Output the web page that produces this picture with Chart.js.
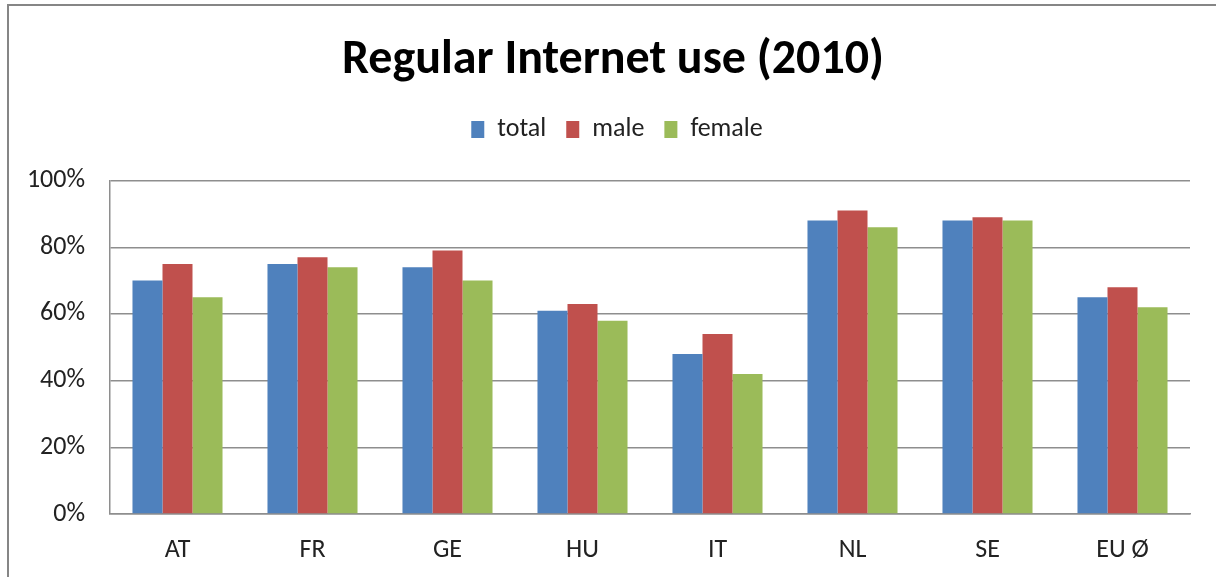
<!DOCTYPE html>
<html>
<head>
<meta charset="utf-8">
<script src="https://cdn.jsdelivr.net/npm/chart.js@4.4.1/dist/chart.umd.min.js"></script>
<style>
  html, body { margin: 0; padding: 0; background: #fff; overflow: hidden; }
  canvas { display: block; }
</style>
</head>
<body>
<canvas id="chart" width="1216" height="577"></canvas>
<script>
// 데이터
var countries = ['AT', 'FR', 'GE', 'HU', 'IT', 'NL', 'SE', 'EU Ø'];
var totalValues = [70, 75, 74, 61, 48, 88, 88, 65];
var maleValues = [75, 77, 79, 63, 54, 91, 89, 68];
var femaleValues = [65, 74, 70, 58, 42, 86, 88, 62];
var yTicks = [0, 20, 40, 60, 80, 100];

var FONT = "Calibri, Carlito, Lato, 'Open Sans', sans-serif";
var GRID = '#8e8e8e';

Chart.defaults.font.family = FONT;
Chart.defaults.color = '#222';

function makeSet(label, data, color) {
	return {
		label : label,
		data : data,
		backgroundColor : color,
		borderWidth : 0,
		categoryPercentage : 0.667,
		barPercentage : 1.0
	};
}

// 범례 아래 여백 늘리기
var legendGap = {
	id : 'legendGap',
	beforeInit : function(chart) {
		var fit = chart.legend.fit;
		chart.legend.fit = function() {
			fit.bind(chart.legend)();
			this.height += 28;
		};
	}
};

// 제목/범례 가운데 위치 살짝 오른쪽으로
var shiftHeader = {
	id : 'shiftHeader',
	afterLayout : function(chart) {
		if (chart.titleBlock) {
			chart.titleBlock.left += 6;
			chart.titleBlock.right += 6;
		}
		if (chart.legend) {
			chart.legend.left += 10;
			chart.legend.right += 10;
		}
	}
};

// 차트 테두리 (왼쪽, 위)
var chartFrame = {
	id : 'chartFrame',
	afterDraw : function(chart) {
		var ctx = chart.ctx;
		ctx.save();
		ctx.strokeStyle = '#868686';
		ctx.lineWidth = 2;
		ctx.beginPath();
		ctx.moveTo(8, chart.height);
		ctx.lineTo(8, 5);
		ctx.lineTo(chart.width, 5);
		ctx.stroke();
		ctx.restore();
	}
};

var chart = new Chart(document.getElementById('chart'), {
	type : 'bar',
	data : {
		labels : countries,
		datasets : [
			makeSet('total', totalValues, '#4F81BD'),
			makeSet('male', maleValues, '#C0504D'),
			makeSet('female', femaleValues, '#9BBB59')
		]
	},
	plugins : [ legendGap, shiftHeader, chartFrame ],
	options : {
		responsive : false,
		animation : false,
		layout : {
			padding : { left : 24, right : 26, top : 0, bottom : 13 }
		},
		plugins : {
			title : {
				display : true,
				text : 'Regular Internet use (2010)',
				color : '#000',
				font : { size : 48, weight : 'bold' },
				padding : { top : 32, bottom : 7 }
			},
			legend : {
				display : true,
				labels : {
					boxWidth : 13,
					boxHeight : 17,
					padding : 20,
					color : '#222',
					font : { size : 26 }
				}
			},
			tooltip : { enabled : false }
		},
		scales : {
			x : {
				afterFit : function(scale) { scale.height = 50; },
				grid : { display : false, drawTicks : false },
				border : { display : true, color : GRID, width : 1.5 },
				ticks : { padding : 21, font : { size : 26 }, color : '#222' }
			},
			y : {
				min : 0,
				max : 100,
				afterFit : function(scale) { scale.width = 86; },
				afterBuildTicks : function(scale) {
					scale.ticks = yTicks.map(function(v) { return { value : v }; });
				},
				grid : { color : GRID, lineWidth : 1.5, drawTicks : false },
				border : { display : true, color : GRID, width : 1.5 },
				ticks : {
					padding : 25,
					font : { size : 26 },
					color : '#222',
					callback : function(v) { return v + '%'; }
				}
			}
		}
	}
});
</script>
</body>
</html>
